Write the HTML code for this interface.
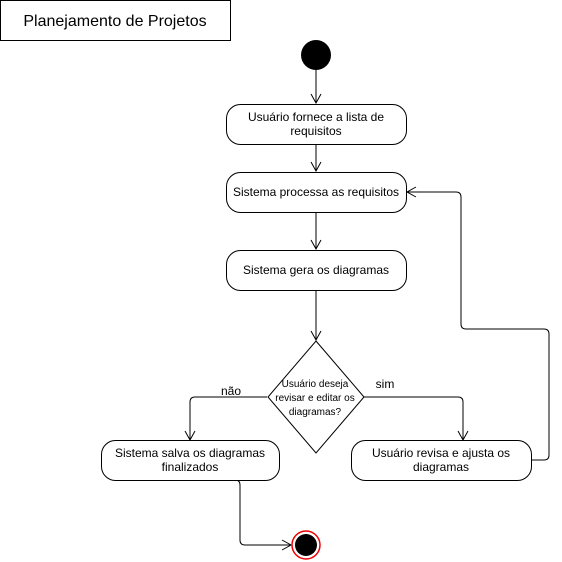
<!DOCTYPE html>
<html><head><style>body{margin:0;background:#fff}svg{display:block}text{font-family:"Liberation Sans",sans-serif;fill:#000}</style></head><body>
<svg width="562" height="562" viewBox="0 0 562 562">
<defs><marker id="a" markerWidth="12" markerHeight="12" refX="10" refY="6" orient="auto" markerUnits="userSpaceOnUse"><path d="M1,1 L10,6 L1,11" fill="none" stroke="#000" stroke-width="1"/></marker></defs>
<rect x="0.5" y="0.5" width="230" height="40" fill="#fff" stroke="#000"/>
<text x="115" y="26" font-size="16" text-anchor="middle">Planejamento de Projetos</text>
<circle cx="316" cy="55" r="15" fill="#000"/>
<g fill="none" stroke="#000" stroke-width="1">
<path d="M316,70 V103" marker-end="url(#a)"/>
<path d="M316,144 V171" marker-end="url(#a)"/>
<path d="M316,212 V249" marker-end="url(#a)"/>
<path d="M316,290 V340" marker-end="url(#a)"/>
<path d="M267,397 H195 Q190,397 190,402 V440" marker-end="url(#a)"/>
<path d="M363,397 H458 Q463,397 463,402 V440" marker-end="url(#a)"/>
<path d="M531,460 H544 Q549,460 549,455 V334 Q549,329 544,329 H466 Q461,329 461,324 V197 Q461,192 456,192 H407" marker-end="url(#a)"/>
<path d="M235,480 Q240,480 240,485 V540 Q240,545 245,545 H291" marker-end="url(#a)"/>
</g>
<g fill="#fff" stroke="#000">
<rect x="226.5" y="104.5" width="180" height="40" rx="14"/>
<rect x="226.5" y="172.5" width="180" height="40" rx="14"/>
<rect x="226.5" y="250.5" width="180" height="40" rx="14"/>
<path d="M316,341 L364,397 L316,453 L268,397 Z"/>
<rect x="101.5" y="440.5" width="178" height="40" rx="14"/>
<rect x="351.5" y="440.5" width="180" height="40" rx="14"/>
</g>
<g font-size="12" text-anchor="middle">
<text x="316" y="121">Usuário fornece a lista de</text><text x="316" y="135">requisitos</text>
<text x="316" y="196">Sistema processa as requisitos</text>
<text x="316" y="274">Sistema gera os diagramas</text>
<text x="190" y="457">Sistema salva os diagramas</text><text x="190" y="471">finalizados</text>
<text x="441" y="457">Usuário revisa e ajusta os</text><text x="441" y="471">diagramas</text>
<text x="231" y="395">não</text><text x="385" y="388">sim</text>
</g>
<g font-size="10" text-anchor="middle">
<text x="315" y="387">Usuário deseja</text><text x="315" y="401">revisar e editar os</text><text x="315" y="415">diagramas?</text>
</g>
<circle cx="306" cy="545" r="14" fill="#fff" stroke="#e00" stroke-width="1.5"/>
<circle cx="306" cy="545" r="11" fill="#000"/>
</svg>
</body></html>
